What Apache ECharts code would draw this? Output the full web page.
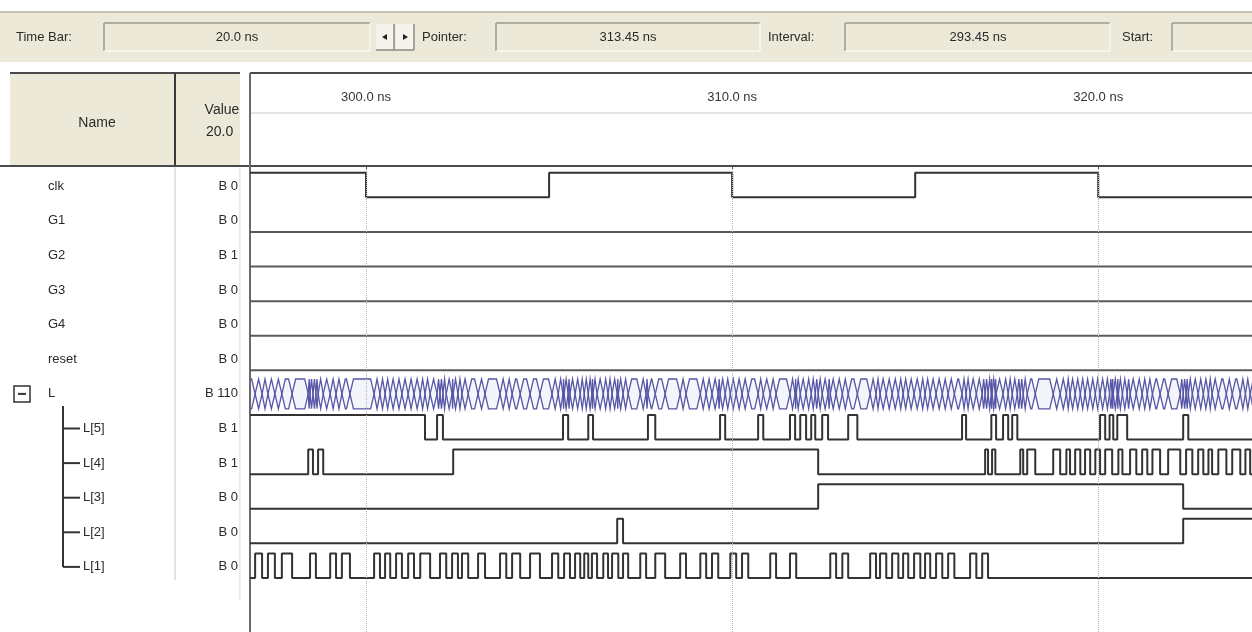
<!DOCTYPE html>
<html>
<head>
<meta charset="utf-8">
<script src="https://cdn.jsdelivr.net/npm/echarts@6/dist/echarts.min.js"></script>
<style>
  html, body { margin: 0; padding: 0; background: #fff; }
  #chart { width: 1252px; height: 632px; }
</style>
</head>
<body>
<div id="chart"></div>
<script>
// time window shown (ns) and the ruler ticks
const timeMin = 296.83;
const timeMax = 324.2;
const tickTimes = [300, 310, 320];

// toolbar fields
const toolbarLabels = ['Time Bar:', 'Pointer:', 'Interval:', 'Start:'];
const toolbarValues = ['20.0 ns', '313.45 ns', '293.45 ns', ''];

// rows of the waveform table
const signalNames = ['clk', 'G1', 'G2', 'G3', 'G4', 'reset', 'L', 'L[5]', 'L[4]', 'L[3]', 'L[2]', 'L[1]'];
const signalValues = ['B 0', 'B 0', 'B 1', 'B 0', 'B 0', 'B 0', 'B 110', 'B 1', 'B 1', 'B 0', 'B 0', 'B 0'];

// start level and toggle times (ns) of each bit
const clkStart = 1;
const clkEdges = [300, 305, 310, 315, 320];
const g1Start = 0, g1Edges = [];
const g2Start = 0, g2Edges = [];
const g3Start = 0, g3Edges = [];
const g4Start = 0, g4Edges = [];
const resetStart = 0, resetEdges = [];
const l5Start = 1;
const l5Edges = [301.61, 301.94, 302.10, 305.38, 305.52, 306.07, 306.20, 307.70, 307.90,
  309.67, 309.81, 310.71, 310.85, 311.58, 311.72, 311.86, 312.02, 312.16, 312.27, 312.46, 312.62,
  313.17, 313.42, 316.28, 316.39, 317.08, 317.21, 317.40, 317.54, 317.65, 317.79,
  320.05, 320.19, 320.31, 320.41, 320.52, 320.79, 322.32, 322.46];
const l4Start = 0;
const l4Edges = [298.42, 298.55, 298.69, 298.83, 302.38, 312.35, 316.91, 316.99, 317.10, 317.19,
  317.87, 317.95, 318.06, 318.28, 318.77, 318.96, 319.13, 319.23, 319.37, 319.51, 319.64, 319.78,
  319.92, 320.05, 320.19, 320.38, 320.55, 320.66, 320.87, 321.04, 321.20, 321.34, 321.48, 321.69,
  321.91, 322.24, 322.40, 322.57, 322.73, 322.87, 323.01, 323.11, 323.28, 323.50, 323.66, 323.88,
  324.02, 324.15];
const l3Start = 0;
const l3Edges = [312.35, 322.32];
const l2Start = 0;
const l2Edges = [306.86, 307.02, 322.32];
const l1Start = 0;
const l1Edges = [296.97, 297.16, 297.32, 297.51, 297.70, 297.98, 298.47, 298.63, 299.02, 299.18,
  299.34, 299.56, 300.22, 300.38, 300.52, 300.66, 300.82, 300.98, 301.15, 301.31, 301.48, 301.75,
  302.02, 302.19, 302.35, 302.51, 302.62, 302.79, 303.06, 303.25, 303.66, 303.83, 303.99, 304.21,
  304.48, 304.75, 305.08, 305.25, 305.41, 305.57, 305.71, 305.85, 305.96, 306.07, 306.17, 306.31,
  306.48, 306.61, 306.72, 306.89, 307.02, 307.16, 307.49, 307.65, 307.90, 308.17, 308.58, 308.74,
  309.13, 309.29, 309.45, 309.62, 309.95, 310.11, 310.27, 310.44, 311.04, 311.20, 311.58, 311.75,
  312.68, 312.84, 313.01, 313.17, 313.77, 313.93, 314.04, 314.21, 314.37, 314.54, 314.67, 314.81,
  314.97, 315.14, 315.27, 315.41, 315.57, 315.74, 315.90, 316.07, 316.50, 316.67, 316.83, 316.99];

const bits = [
  [clkStart, clkEdges], [g1Start, g1Edges], [g2Start, g2Edges], [g3Start, g3Edges],
  [g4Start, g4Edges], [resetStart, resetEdges], null,
  [l5Start, l5Edges], [l4Start, l4Edges], [l3Start, l3Edges], [l2Start, l2Edges], [l1Start, l1Edges]
];
const busRow = 6;

const FONT = "'Liberation Sans', Arial, sans-serif";
const ROW_PX = 34.6;
const GRID_TOP = 169;
const rowsShown = (632 - GRID_TOP) / ROW_PX;

function toSteps(start, edges, row) {
  const hi = row + 0.11, lo = row + 0.82;
  let v = start;
  const pts = [[timeMin, v ? hi : lo]];
  edges.forEach(t => { v = 1 - v; pts.push([t, v ? hi : lo]); });
  pts.push([timeMax, v ? hi : lo]);
  return pts;
}

// bus segments = all bit changes of L[5..1]
const busEdges = Array.from(new Set([].concat(l5Edges, l4Edges, l3Edges, l2Edges, l1Edges))).sort((a, b) => a - b);
const busBounds = [timeMin - 0.12].concat(busEdges, [timeMax + 0.12]);
const busSegments = [];
for (let i = 0; i < busBounds.length - 1; i++) busSegments.push([busBounds[i], busBounds[i + 1]]);

const chart = echarts.init(document.getElementById('chart'));

const seriesList = [];
bits.forEach((b, k) => {
  if (!b) return;
  seriesList.push({
    type: 'line',
    step: 'end',
    symbol: 'none',
    animation: false,
    silent: true,
    lineStyle: { color: k === 0 || k >= 7 ? '#333333' : '#5a5a5a', width: 2 },
    data: toSteps(b[0], b[1], k),
    markLine: k === 0 ? {
      silent: true,
      symbol: 'none',
      label: { show: false },
      lineStyle: { color: '#b4b4b4', type: 'dotted', width: 1 },
      data: tickTimes.map(t => ({ xAxis: t }))
    } : undefined
  });
});

seriesList.push({
  type: 'custom',
  animation: false,
  silent: true,
  clip: true,
  encode: { x: [0, 1] },
  data: busSegments,
  renderItem: (params, api) => {
    const a = api.coord([api.value(0), busRow + 0.5]);
    const b = api.coord([api.value(1), busRow + 0.5]);
    const top = api.coord([api.value(0), busRow + 0.07])[1];
    const bot = api.coord([api.value(0), busRow + 0.93])[1];
    const d = Math.min(3.5, (b[0] - a[0]) / 2);
    return {
      type: 'polygon',
      shape: { points: [[a[0], a[1]], [a[0] + d, top], [b[0] - d, top], [b[0], b[1]], [b[0] - d, bot], [a[0] + d, bot]] },
      style: { fill: 'rgba(120,120,200,0.08)', stroke: '#5656a6', lineWidth: 1.3 }
    };
  }
});

const option = {
  backgroundColor: '#ffffff',
  animation: false,
  grid: { left: 250, right: 0, top: GRID_TOP, bottom: 0 },
  xAxis: {
    type: 'value',
    position: 'top',
    offset: GRID_TOP - 109,
    min: timeMin,
    max: timeMax,
    axisLine: { show: false },
    axisTick: { show: true, customValues: tickTimes, length: 4, lineStyle: { color: '#555', width: 1 } },
    axisLabel: {
      customValues: tickTimes,
      margin: 5,
      color: '#333',
      fontFamily: FONT,
      fontSize: 13,
      formatter: v => v.toFixed(1) + ' ns'
    },
    splitLine: { show: false }
  },
  yAxis: {
    type: 'value',
    inverse: true,
    min: 0,
    max: rowsShown,
    show: false
  },
  series: seriesList
};
chart.setOption(option);

// ---- table chrome (toolbar, header, names and values) ----
const g = [];
function line(x1, y1, x2, y2, color, w) {
  g.push({ type: 'line', shape: { x1, y1, x2, y2 }, style: { stroke: color, lineWidth: w || 1 }, silent: true });
}
function rect(x, y, w, h, fill) {
  g.push({ type: 'rect', shape: { x, y, width: w, height: h }, style: { fill }, silent: true });
}
function text(x, y, s, align, size, extra) {
  g.push({ type: 'text', x, y, silent: true,
    style: Object.assign({ text: s, fill: '#2a2a2a', font: (size || 13) + 'px ' + FONT, textAlign: align || 'left', textVerticalAlign: 'middle' }, extra || {}) });
}
function sunken(x, y, w, h) {
  rect(x, y, w, h, '#ece9d8');
  line(x, y, x + w, y, '#9a9a90', 1.5);
  line(x, y, x, y + h, '#9a9a90', 1.5);
  line(x, y + h, x + w, y + h, '#ffffff', 1);
  line(x + w, y, x + w, y + h, '#ffffff', 1);
}

// toolbar
rect(0, 12, 1252, 50, '#ece9d8');
line(0, 12, 1252, 12, '#c4c2b4', 2);
const tbY = 37;
text(16, tbY, toolbarLabels[0]);
sunken(104, 23, 266, 28);
text(237, tbY, toolbarValues[0], 'center');
// arrow buttons
rect(376, 24, 18, 26, '#f4f3ee'); rect(396, 24, 18, 26, '#f4f3ee');
line(394, 24, 394, 50, '#8a8a80', 1.5); line(414, 24, 414, 50, '#8a8a80', 1.5);
line(376, 50, 414, 50, '#8a8a80', 1.5);
g.push({ type: 'polygon', shape: { points: [[382, 37], [387, 34], [387, 40]] }, style: { fill: '#222' }, silent: true });
g.push({ type: 'polygon', shape: { points: [[408, 37], [403, 34], [403, 40]] }, style: { fill: '#222' }, silent: true });
text(422, tbY, toolbarLabels[1]);
sunken(496, 23, 264, 28);
text(628, tbY, toolbarValues[1], 'center');
text(768, tbY, toolbarLabels[2]);
sunken(845, 23, 265, 28);
text(978, tbY, toolbarValues[2], 'center');
text(1122, tbY, toolbarLabels[3]);
sunken(1172, 23, 90, 28);

// header
rect(10, 73, 230, 93, '#ece9d8');
line(10, 73, 240, 73, '#4a4a4a', 2);
line(175, 73, 175, 166, '#3a3a3a', 2);
line(250, 73, 1252, 73, '#4a4a4a', 2);
line(250, 113, 1252, 113, '#c8c8c8', 1);
line(0, 166, 1252, 166, '#4a4a4a', 2);
line(175, 167, 175, 580, '#c8c8c8', 1);
line(240, 167, 240, 600, '#d4d4d4', 1);
text(97, 123, 'Name', 'center', 14);
text(222, 110, 'Value', 'center', 14);
text(206, 132, '20.0 ns', 'left', 14, { width: 38, overflow: 'truncate', ellipsis: '' });

// rows: names, values and the tree of L
const rowY = signalNames.map((_, k) => chart.convertToPixel({ yAxisIndex: 0 }, k + 0.5));
signalNames.forEach((n, k) => {
  const child = k > busRow;
  text(child ? 83 : 48, rowY[k], n, 'left', 13);
  text(238, rowY[k], signalValues[k], 'right', 13);
});
// collapse box for L
const by = rowY[busRow];
g.push({ type: 'rect', shape: { x: 14, y: by - 8, width: 16, height: 16 }, style: { fill: '#fff', stroke: '#333', lineWidth: 1.5 }, silent: true });
line(18, by, 26, by, '#333', 2);
// tree lines
line(63, by + 12, 63, rowY[signalNames.length - 1], '#333', 2);
for (let k = busRow + 1; k < signalNames.length; k++) line(63, rowY[k], 80, rowY[k], '#333', 2);
// left edge of the waveform pane, drawn last so the bus stays behind it
rect(240.5, 167, 8.5, 465, '#ffffff');
line(250, 73, 250, 632, '#6a6a6a', 2);

chart.setOption({ graphic: g });
</script>
</body>
</html>
